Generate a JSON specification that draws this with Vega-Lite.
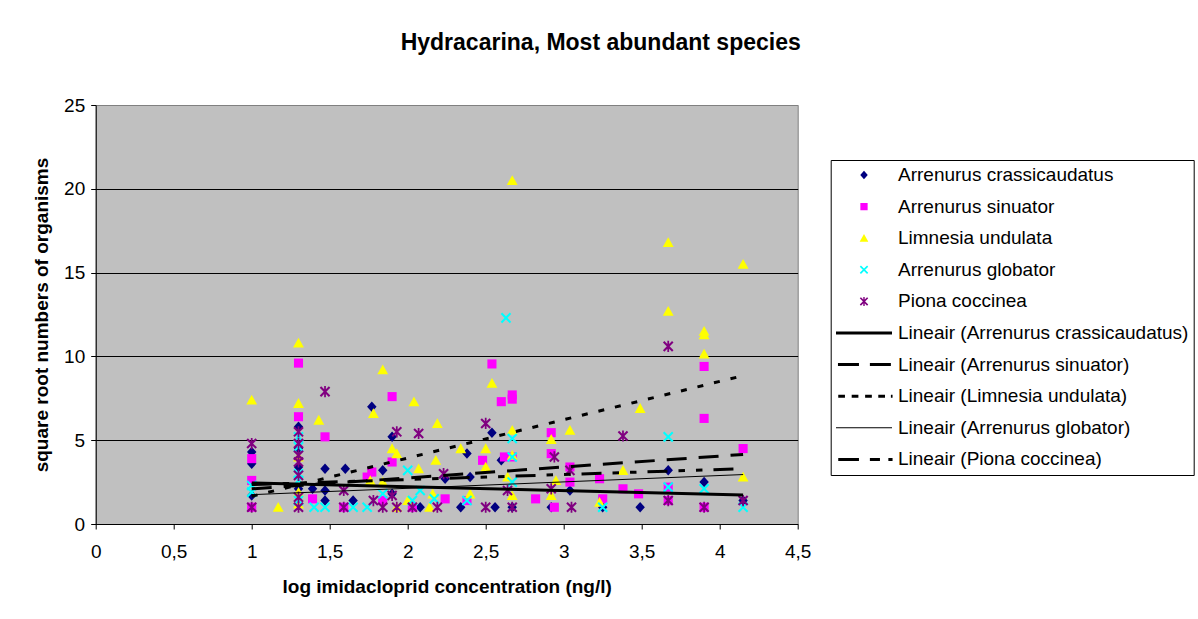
{
  "$schema": "https://vega.github.io/schema/vega-lite/v6.json",
  "width": 702,
  "height": 419,
  "autosize": {"type": "none"},
  "padding": {"left": 95.7, "top": 105, "right": 400.3, "bottom": 95},
  "background": "white",
  "title": {"text": "Hydracarina, Most abundant species", "font": "Liberation Sans", "fontSize": 23, "fontWeight": "bold", "color": "black", "anchor": "middle", "frame": "group", "dx": 154, "offset": 41},
  "config": {
    "view": {"fill": "#C0C0C0", "stroke": "#808080", "strokeWidth": 1},
    "axis": {"labelFont": "Liberation Sans", "labelFontSize": 19, "labelColor": "black", "titleFont": "Liberation Sans", "titleFontSize": 19, "titleFontWeight": "bold", "titleColor": "black", "domainColor": "black", "tickColor": "black", "tickSize": 5, "domainWidth": 1, "tickWidth": 1}
  },
  "datasets": {
    "points": [
      {"series": "Arrenurus crassicaudatus", "x": 1.0, "y": 4.3},
      {"series": "Arrenurus crassicaudatus", "x": 1.0, "y": 3.6},
      {"series": "Arrenurus crassicaudatus", "x": 1.0, "y": 1.7},
      {"series": "Arrenurus crassicaudatus", "x": 1.3, "y": 5.8},
      {"series": "Arrenurus crassicaudatus", "x": 1.3, "y": 4.5},
      {"series": "Arrenurus crassicaudatus", "x": 1.3, "y": 3.4},
      {"series": "Arrenurus crassicaudatus", "x": 1.3, "y": 2.1},
      {"series": "Arrenurus crassicaudatus", "x": 1.39, "y": 2.1},
      {"series": "Arrenurus crassicaudatus", "x": 1.47, "y": 3.3},
      {"series": "Arrenurus crassicaudatus", "x": 1.47, "y": 2.0},
      {"series": "Arrenurus crassicaudatus", "x": 1.47, "y": 1.4},
      {"series": "Arrenurus crassicaudatus", "x": 1.6, "y": 3.3},
      {"series": "Arrenurus crassicaudatus", "x": 1.65, "y": 1.4},
      {"series": "Arrenurus crassicaudatus", "x": 1.77, "y": 7.0},
      {"series": "Arrenurus crassicaudatus", "x": 1.84, "y": 3.2},
      {"series": "Arrenurus crassicaudatus", "x": 1.9, "y": 5.2},
      {"series": "Arrenurus crassicaudatus", "x": 1.9, "y": 1.8},
      {"series": "Arrenurus crassicaudatus", "x": 2.08, "y": 1.0},
      {"series": "Arrenurus crassicaudatus", "x": 2.24, "y": 2.7},
      {"series": "Arrenurus crassicaudatus", "x": 2.34, "y": 1.0},
      {"series": "Arrenurus crassicaudatus", "x": 2.38, "y": 4.2},
      {"series": "Arrenurus crassicaudatus", "x": 2.4, "y": 2.8},
      {"series": "Arrenurus crassicaudatus", "x": 2.54, "y": 5.45},
      {"series": "Arrenurus crassicaudatus", "x": 2.56, "y": 1.0},
      {"series": "Arrenurus crassicaudatus", "x": 2.6, "y": 3.8},
      {"series": "Arrenurus crassicaudatus", "x": 2.67, "y": 1.0},
      {"series": "Arrenurus crassicaudatus", "x": 2.92, "y": 1.0},
      {"series": "Arrenurus crassicaudatus", "x": 3.04, "y": 2.0},
      {"series": "Arrenurus crassicaudatus", "x": 3.25, "y": 1.0},
      {"series": "Arrenurus crassicaudatus", "x": 3.49, "y": 1.0},
      {"series": "Arrenurus crassicaudatus", "x": 3.67, "y": 3.2},
      {"series": "Arrenurus crassicaudatus", "x": 3.9, "y": 2.5},
      {"series": "Arrenurus crassicaudatus", "x": 4.15, "y": 1.4},
      {"series": "Arrenurus sinuator", "x": 1.0, "y": 3.9},
      {"series": "Arrenurus sinuator", "x": 1.0, "y": 2.6},
      {"series": "Arrenurus sinuator", "x": 1.0, "y": 1.0},
      {"series": "Arrenurus sinuator", "x": 1.3, "y": 9.6},
      {"series": "Arrenurus sinuator", "x": 1.3, "y": 6.4},
      {"series": "Arrenurus sinuator", "x": 1.39, "y": 1.5},
      {"series": "Arrenurus sinuator", "x": 1.47, "y": 5.2},
      {"series": "Arrenurus sinuator", "x": 1.59, "y": 1.0},
      {"series": "Arrenurus sinuator", "x": 1.74, "y": 2.8},
      {"series": "Arrenurus sinuator", "x": 1.77, "y": 3.1},
      {"series": "Arrenurus sinuator", "x": 1.84, "y": 1.4},
      {"series": "Arrenurus sinuator", "x": 1.9, "y": 7.6},
      {"series": "Arrenurus sinuator", "x": 1.9, "y": 3.7},
      {"series": "Arrenurus sinuator", "x": 2.03, "y": 1.0},
      {"series": "Arrenurus sinuator", "x": 2.24, "y": 1.5},
      {"series": "Arrenurus sinuator", "x": 2.38, "y": 1.4},
      {"series": "Arrenurus sinuator", "x": 2.48, "y": 3.8},
      {"series": "Arrenurus sinuator", "x": 2.54, "y": 9.55},
      {"series": "Arrenurus sinuator", "x": 2.6, "y": 7.3},
      {"series": "Arrenurus sinuator", "x": 2.62, "y": 4.0},
      {"series": "Arrenurus sinuator", "x": 2.67, "y": 7.7},
      {"series": "Arrenurus sinuator", "x": 2.67, "y": 7.45},
      {"series": "Arrenurus sinuator", "x": 2.67, "y": 4.0},
      {"series": "Arrenurus sinuator", "x": 2.82, "y": 1.5},
      {"series": "Arrenurus sinuator", "x": 2.92, "y": 5.45},
      {"series": "Arrenurus sinuator", "x": 2.92, "y": 4.2},
      {"series": "Arrenurus sinuator", "x": 2.94, "y": 1.0},
      {"series": "Arrenurus sinuator", "x": 3.04, "y": 3.4},
      {"series": "Arrenurus sinuator", "x": 3.04, "y": 2.5},
      {"series": "Arrenurus sinuator", "x": 3.23, "y": 2.7},
      {"series": "Arrenurus sinuator", "x": 3.25, "y": 1.5},
      {"series": "Arrenurus sinuator", "x": 3.38, "y": 2.1},
      {"series": "Arrenurus sinuator", "x": 3.48, "y": 1.8},
      {"series": "Arrenurus sinuator", "x": 3.67, "y": 2.2},
      {"series": "Arrenurus sinuator", "x": 3.67, "y": 1.4},
      {"series": "Arrenurus sinuator", "x": 3.9, "y": 9.4},
      {"series": "Arrenurus sinuator", "x": 3.9, "y": 6.3},
      {"series": "Arrenurus sinuator", "x": 3.9, "y": 1.0},
      {"series": "Arrenurus sinuator", "x": 4.15, "y": 4.5},
      {"series": "Limnesia undulata", "x": 1.0, "y": 7.4},
      {"series": "Limnesia undulata", "x": 1.17, "y": 1.0},
      {"series": "Limnesia undulata", "x": 1.3, "y": 10.8},
      {"series": "Limnesia undulata", "x": 1.3, "y": 7.2},
      {"series": "Limnesia undulata", "x": 1.3, "y": 4.0},
      {"series": "Limnesia undulata", "x": 1.3, "y": 1.9},
      {"series": "Limnesia undulata", "x": 1.3, "y": 1.2},
      {"series": "Limnesia undulata", "x": 1.43, "y": 6.2},
      {"series": "Limnesia undulata", "x": 1.76, "y": 2.6},
      {"series": "Limnesia undulata", "x": 1.78, "y": 6.6},
      {"series": "Limnesia undulata", "x": 1.84, "y": 9.2},
      {"series": "Limnesia undulata", "x": 1.84, "y": 2.5},
      {"series": "Limnesia undulata", "x": 1.9, "y": 4.5},
      {"series": "Limnesia undulata", "x": 1.93, "y": 4.2},
      {"series": "Limnesia undulata", "x": 1.93, "y": 1.0},
      {"series": "Limnesia undulata", "x": 2.0, "y": 1.4},
      {"series": "Limnesia undulata", "x": 2.04, "y": 7.3},
      {"series": "Limnesia undulata", "x": 2.07, "y": 3.3},
      {"series": "Limnesia undulata", "x": 2.14, "y": 1.0},
      {"series": "Limnesia undulata", "x": 2.16, "y": 1.8},
      {"series": "Limnesia undulata", "x": 2.18, "y": 3.8},
      {"series": "Limnesia undulata", "x": 2.19, "y": 6.0},
      {"series": "Limnesia undulata", "x": 2.34, "y": 4.5},
      {"series": "Limnesia undulata", "x": 2.4, "y": 1.8},
      {"series": "Limnesia undulata", "x": 2.5, "y": 4.5},
      {"series": "Limnesia undulata", "x": 2.5, "y": 3.4},
      {"series": "Limnesia undulata", "x": 2.54, "y": 8.4},
      {"series": "Limnesia undulata", "x": 2.64, "y": 2.8},
      {"series": "Limnesia undulata", "x": 2.67, "y": 20.5},
      {"series": "Limnesia undulata", "x": 2.67, "y": 5.6},
      {"series": "Limnesia undulata", "x": 2.67, "y": 4.1},
      {"series": "Limnesia undulata", "x": 2.67, "y": 1.7},
      {"series": "Limnesia undulata", "x": 2.92, "y": 5.05},
      {"series": "Limnesia undulata", "x": 2.92, "y": 1.7},
      {"series": "Limnesia undulata", "x": 2.95, "y": 2.6},
      {"series": "Limnesia undulata", "x": 3.04, "y": 5.6},
      {"series": "Limnesia undulata", "x": 3.23, "y": 1.3},
      {"series": "Limnesia undulata", "x": 3.38, "y": 3.2},
      {"series": "Limnesia undulata", "x": 3.49, "y": 6.9},
      {"series": "Limnesia undulata", "x": 3.67, "y": 16.8},
      {"series": "Limnesia undulata", "x": 3.67, "y": 12.7},
      {"series": "Limnesia undulata", "x": 3.9, "y": 11.5},
      {"series": "Limnesia undulata", "x": 3.9, "y": 11.3},
      {"series": "Limnesia undulata", "x": 3.9, "y": 10.15},
      {"series": "Limnesia undulata", "x": 4.15, "y": 15.5},
      {"series": "Limnesia undulata", "x": 4.15, "y": 2.8},
      {"series": "Arrenurus globator", "x": 1.0, "y": 2.3},
      {"series": "Arrenurus globator", "x": 1.0, "y": 1.9},
      {"series": "Arrenurus globator", "x": 1.3, "y": 5.2},
      {"series": "Arrenurus globator", "x": 1.3, "y": 4.6},
      {"series": "Arrenurus globator", "x": 1.3, "y": 3.0},
      {"series": "Arrenurus globator", "x": 1.3, "y": 2.6},
      {"series": "Arrenurus globator", "x": 1.3, "y": 1.4},
      {"series": "Arrenurus globator", "x": 1.4, "y": 1.0},
      {"series": "Arrenurus globator", "x": 1.47, "y": 1.0},
      {"series": "Arrenurus globator", "x": 1.65, "y": 1.0},
      {"series": "Arrenurus globator", "x": 1.74, "y": 1.0},
      {"series": "Arrenurus globator", "x": 1.84, "y": 1.8},
      {"series": "Arrenurus globator", "x": 2.0, "y": 3.2},
      {"series": "Arrenurus globator", "x": 2.03, "y": 1.4},
      {"series": "Arrenurus globator", "x": 2.08, "y": 2.0},
      {"series": "Arrenurus globator", "x": 2.17, "y": 1.5},
      {"series": "Arrenurus globator", "x": 2.38, "y": 1.4},
      {"series": "Arrenurus globator", "x": 2.63, "y": 12.3},
      {"series": "Arrenurus globator", "x": 2.67, "y": 5.1},
      {"series": "Arrenurus globator", "x": 2.67, "y": 4.0},
      {"series": "Arrenurus globator", "x": 2.67, "y": 2.5},
      {"series": "Arrenurus globator", "x": 3.25, "y": 1.0},
      {"series": "Arrenurus globator", "x": 3.67, "y": 5.2},
      {"series": "Arrenurus globator", "x": 3.67, "y": 2.2},
      {"series": "Arrenurus globator", "x": 3.9, "y": 2.1},
      {"series": "Arrenurus globator", "x": 4.15, "y": 1.0},
      {"series": "Piona coccinea", "x": 1.0, "y": 4.8},
      {"series": "Piona coccinea", "x": 1.0, "y": 1.0},
      {"series": "Piona coccinea", "x": 1.3, "y": 5.5},
      {"series": "Piona coccinea", "x": 1.3, "y": 4.8},
      {"series": "Piona coccinea", "x": 1.3, "y": 4.1},
      {"series": "Piona coccinea", "x": 1.3, "y": 3.7},
      {"series": "Piona coccinea", "x": 1.3, "y": 2.9},
      {"series": "Piona coccinea", "x": 1.3, "y": 1.6},
      {"series": "Piona coccinea", "x": 1.3, "y": 1.0},
      {"series": "Piona coccinea", "x": 1.47, "y": 7.9},
      {"series": "Piona coccinea", "x": 1.59, "y": 2.0},
      {"series": "Piona coccinea", "x": 1.59, "y": 1.0},
      {"series": "Piona coccinea", "x": 1.78, "y": 1.4},
      {"series": "Piona coccinea", "x": 1.84, "y": 1.0},
      {"series": "Piona coccinea", "x": 1.9, "y": 1.7},
      {"series": "Piona coccinea", "x": 1.93, "y": 5.5},
      {"series": "Piona coccinea", "x": 1.93, "y": 1.0},
      {"series": "Piona coccinea", "x": 2.03, "y": 1.0},
      {"series": "Piona coccinea", "x": 2.07, "y": 5.4},
      {"series": "Piona coccinea", "x": 2.19, "y": 1.0},
      {"series": "Piona coccinea", "x": 2.23, "y": 3.0},
      {"series": "Piona coccinea", "x": 2.5, "y": 6.0},
      {"series": "Piona coccinea", "x": 2.5, "y": 1.0},
      {"series": "Piona coccinea", "x": 2.64, "y": 2.0},
      {"series": "Piona coccinea", "x": 2.67, "y": 1.0},
      {"series": "Piona coccinea", "x": 2.92, "y": 2.1},
      {"series": "Piona coccinea", "x": 2.94, "y": 4.0},
      {"series": "Piona coccinea", "x": 3.04, "y": 3.2},
      {"series": "Piona coccinea", "x": 3.05, "y": 1.0},
      {"series": "Piona coccinea", "x": 3.38, "y": 5.25},
      {"series": "Piona coccinea", "x": 3.67, "y": 10.6},
      {"series": "Piona coccinea", "x": 3.67, "y": 1.4},
      {"series": "Piona coccinea", "x": 3.9, "y": 1.0},
      {"series": "Piona coccinea", "x": 4.15, "y": 1.4}
    ],
    "trends": [
      {"series": "Lineair (Arrenurus crassicaudatus)", "x": 1.0, "y": 2.45},
      {"series": "Lineair (Arrenurus crassicaudatus)", "x": 4.15, "y": 1.73},
      {"series": "Lineair (Arrenurus sinuator)", "x": 1.0, "y": 2.1},
      {"series": "Lineair (Arrenurus sinuator)", "x": 4.15, "y": 4.15},
      {"series": "Lineair (Limnesia undulata)", "x": 1.0, "y": 1.65},
      {"series": "Lineair (Limnesia undulata)", "x": 4.15, "y": 8.85},
      {"series": "Lineair (Arrenurus globator)", "x": 1.0, "y": 1.75},
      {"series": "Lineair (Arrenurus globator)", "x": 4.15, "y": 2.95},
      {"series": "Lineair (Piona coccinea)", "x": 1.0, "y": 2.35},
      {"series": "Lineair (Piona coccinea)", "x": 4.15, "y": 3.3}
    ]
  },
  "layer": [
    {
      "data": {"name": "points"},
      "mark": {"type": "point", "filled": true, "size": 4900, "opacity": 1, "strokeWidth": 0},
      "encoding": {
        "x": {"field": "x", "type": "quantitative", "scale": {"domain": [0, 4.5], "nice": false, "zero": false},
          "axis": {"title": "log imidacloprid concentration (ng/l)", "values": [0, 0.5, 1, 1.5, 2, 2.5, 3, 3.5, 4, 4.5], "labelExpr": "replace(toString(datum.value), '.', ',')", "grid": false, "labelPadding": 13, "titlePadding": 16, "labelFlush": false, "labelOverlap": false}},
        "y": {"field": "y", "type": "quantitative", "scale": {"domain": [0, 25], "nice": false, "zero": false},
          "axis": {"title": "square root numbers of organisms", "values": [0, 5, 10, 15, 20, 25], "grid": true, "gridColor": {"condition": {"test": "datum.value === 25", "value": "#808080"}, "value": "black"}, "gridOpacity": 1, "gridWidth": 1, "labelPadding": 6, "titlePadding": 12, "labelFlush": false, "labelOverlap": false}},
        "color": {"field": "series", "type": "nominal",
          "scale": {"domain": ["Arrenurus crassicaudatus", "Arrenurus sinuator", "Limnesia undulata", "Arrenurus globator", "Piona coccinea", "Lineair (Arrenurus crassicaudatus)", "Lineair (Arrenurus sinuator)", "Lineair (Limnesia undulata)", "Lineair (Arrenurus globator)", "Lineair (Piona coccinea)"],
            "range": ["#000080", "#FF00FF", "#FFFF00", "#00FFFF", "#800080", "black", "black", "black", "black", "black"]},
          "legend": {"orient": "none", "legendX": 735, "legendY": 55, "title": null, "symbolSize": 3136, "symbolStrokeWidth": 0, "clipHeight": 19.4, "rowPadding": 11.6, "labelOffset": 6, "symbolOffset": 0, "padding": 5.3, "strokeColor": "black", "fillColor": "white", "labelFont": "Liberation Sans", "labelFontSize": 19, "labelColor": "black", "labelLimit": 400, "symbolOpacity": 1}},
        "shape": {"field": "series", "type": "nominal",
          "scale": {"domain": ["Arrenurus crassicaudatus", "Arrenurus sinuator", "Limnesia undulata", "Arrenurus globator", "Piona coccinea", "Lineair (Arrenurus crassicaudatus)", "Lineair (Arrenurus sinuator)", "Lineair (Limnesia undulata)", "Lineair (Arrenurus globator)", "Lineair (Piona coccinea)"],
            "range": [
              "M0,-0.15L0.135,0L0,0.15L-0.135,0Z",
              "M-0.13,-0.13H0.13V0.13H-0.13Z",
              "M0,-0.15L0.155,0.13L-0.155,0.13Z",
              "M-0.109,-0.151L0.151,0.109L0.109,0.151L-0.151,-0.109Z M-0.151,0.109L0.109,-0.151L0.151,-0.109L-0.109,0.151Z",
              "M-0.109,-0.151L0.151,0.109L0.109,0.151L-0.151,-0.109Z M-0.151,0.109L0.109,-0.151L0.151,-0.109L-0.109,0.151Z M-0.025,-0.16H0.025V0.16H-0.025Z",
              "M-1,-0.054H1V0.054H-1Z",
              "M-0.93,-0.054H-0.18V0.054H-0.93Z M0.21,-0.054H0.96V0.054H0.21Z",
              "M-0.92,-0.054H-0.68V0.054H-0.92Z M-0.44,-0.054H-0.2V0.054H-0.44Z M0.04,-0.054H0.28V0.054H0.04Z M0.51,-0.054H0.75V0.054H0.51Z M0.96,-0.054H1.02V0.054H0.96Z",
              "M-1,-0.018H1V0.018H-1Z",
              "M-0.92,-0.054H-0.18V0.054H-0.92Z M0.21,-0.054H0.57V0.054H0.21Z M0.87,-0.054H1.02V0.054H0.87Z"
            ]}}
      }
    },
    {
      "data": {"name": "trends"},
      "transform": [{"filter": "datum.series === 'Lineair (Arrenurus crassicaudatus)'"}],
      "mark": {"type": "line", "color": "black", "strokeWidth": 3},
      "encoding": {"x": {"field": "x", "type": "quantitative"}, "y": {"field": "y", "type": "quantitative"}}
    },
    {
      "data": {"name": "trends"},
      "transform": [{"filter": "datum.series === 'Lineair (Arrenurus sinuator)'"}],
      "mark": {"type": "line", "color": "black", "strokeWidth": 3, "strokeDash": [20, 12]},
      "encoding": {"x": {"field": "x", "type": "quantitative"}, "y": {"field": "y", "type": "quantitative"}}
    },
    {
      "data": {"name": "trends"},
      "transform": [{"filter": "datum.series === 'Lineair (Limnesia undulata)'"}],
      "mark": {"type": "line", "color": "black", "strokeWidth": 3, "strokeDash": [6, 11]},
      "encoding": {"x": {"field": "x", "type": "quantitative"}, "y": {"field": "y", "type": "quantitative"}}
    },
    {
      "data": {"name": "trends"},
      "transform": [{"filter": "datum.series === 'Lineair (Arrenurus globator)'"}],
      "mark": {"type": "line", "color": "black", "strokeWidth": 1},
      "encoding": {"x": {"field": "x", "type": "quantitative"}, "y": {"field": "y", "type": "quantitative"}}
    },
    {
      "data": {"name": "trends"},
      "transform": [{"filter": "datum.series === 'Lineair (Piona coccinea)'"}],
      "mark": {"type": "line", "color": "black", "strokeWidth": 3, "strokeDash": [20, 11, 6.5, 11, 6.5, 11]},
      "encoding": {"x": {"field": "x", "type": "quantitative"}, "y": {"field": "y", "type": "quantitative"}}
    }
  ]
}
